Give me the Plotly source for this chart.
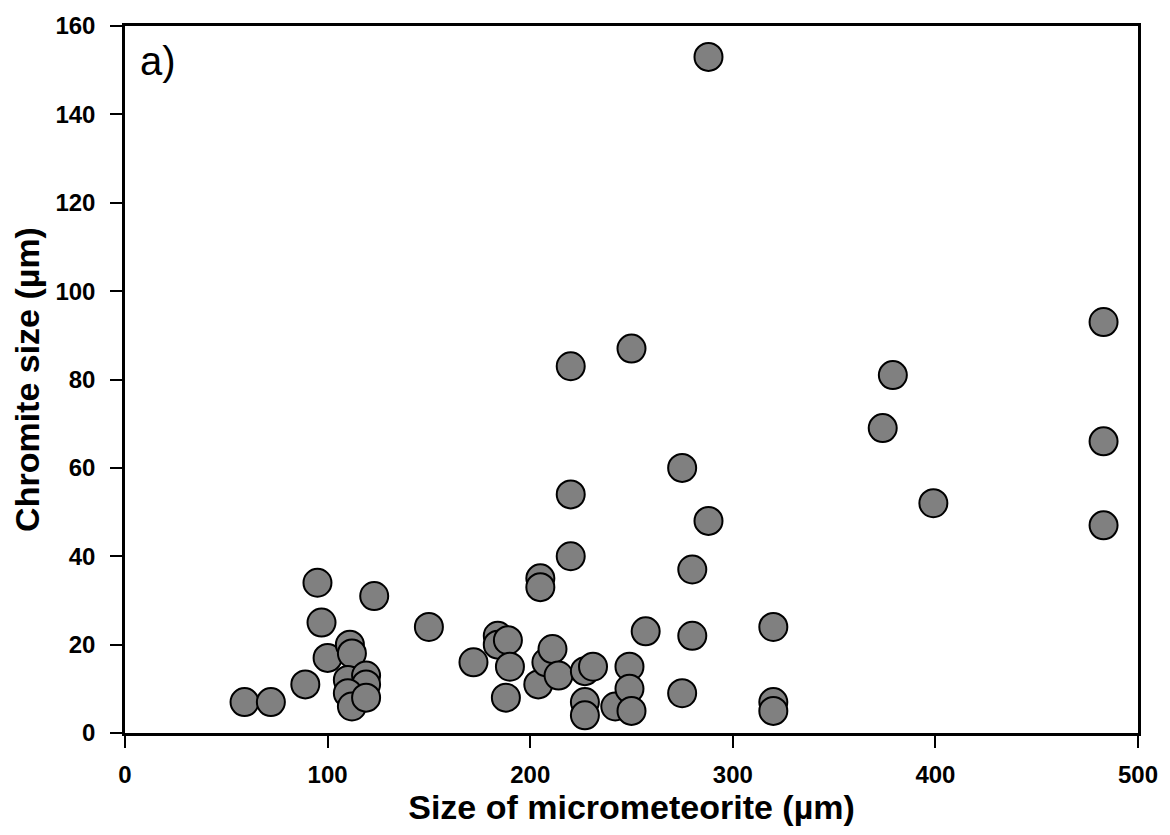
import plotly.graph_objects as go

mm_size = [59, 72, 89, 95, 97, 100, 111, 112, 110, 119, 119, 110, 112, 119, 123, 150,
           172, 184, 184, 189, 190, 188, 205, 205, 204, 208, 211, 214, 220, 220, 220,
           227, 227, 227, 231, 242, 249, 249, 250, 250, 257, 275, 275, 280, 280, 288, 288,
           320, 320, 320, 374, 379, 399, 483, 483, 483]
chromite_size = [7, 7, 11, 34, 25, 17, 20, 18, 12, 13, 11, 9, 6, 8, 31, 24,
                 16, 22, 20, 21, 15, 8, 35, 33, 11, 16, 19, 13, 40, 54, 83,
                 14, 7, 4, 15, 6, 15, 10, 5, 87, 23, 60, 9, 37, 22, 48, 153,
                 24, 7, 5, 69, 81, 52, 93, 66, 47]

x_ticks = [0, 100, 200, 300, 400, 500]
y_ticks = [0, 20, 40, 60, 80, 100, 120, 140, 160]

fig = go.Figure()
fig.add_trace(go.Scatter(
    x=mm_size, y=chromite_size, mode="markers",
    marker=dict(size=28, color="#808080", line=dict(color="black", width=2)),
    showlegend=False, cliponaxis=False,
))

font_family = "Liberation Sans, Arial, sans-serif"
fig.update_layout(
    width=1170, height=835,
    margin=dict(l=125, r=29, t=20, b=102),
    plot_bgcolor="white", paper_bgcolor="white",
    font=dict(family=font_family, color="black"),
)
fig.update_xaxes(
    range=[0, 500], tickvals=x_ticks, ticktext=[f"<b>{v}</b>" for v in x_ticks],
    ticks="outside", ticklen=12, tickwidth=2, tickcolor="black",
    ticklabelstandoff=6,
    showline=True, linewidth=2.5, linecolor="black", mirror=True,
    showgrid=False, zeroline=False,
    tickfont=dict(size=24, family=font_family),
    title=dict(text="<b>Size of micrometeorite (µm)</b>", font=dict(size=34, family=font_family), standoff=2),
)
fig.update_yaxes(
    range=[0, 160], tickvals=y_ticks, ticktext=[f"<b>{v}</b>" for v in y_ticks],
    ticks="outside", ticklen=12, tickwidth=2, tickcolor="black",
    ticklabelstandoff=10,
    showline=True, linewidth=2.5, linecolor="black", mirror=True,
    showgrid=False, zeroline=False,
    tickfont=dict(size=24, family=font_family),
    title=dict(text="<b>Chromite size (µm)</b>", font=dict(size=34, family=font_family), standoff=6),
)
fig.add_annotation(
    x=0.013, y=0.985, xref="paper", yref="paper", xanchor="left", yanchor="top",
    text="a)", showarrow=False, font=dict(size=40, family=font_family, color="black"),
)
fig.write_html("out.html")
